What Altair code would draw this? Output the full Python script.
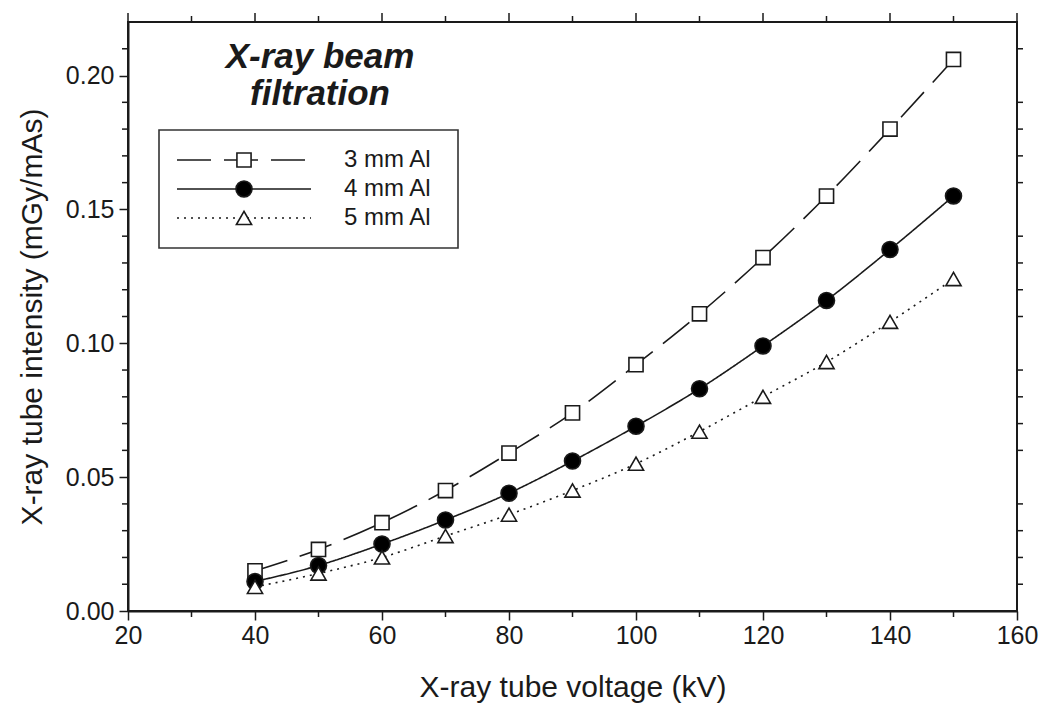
import altair as alt
import pandas as pd

# ---- data ----
kv = [40, 50, 60, 70, 80, 90, 100, 110, 120, 130, 140, 150]
al3 = [0.015, 0.023, 0.033, 0.045, 0.059, 0.074, 0.092, 0.111, 0.132, 0.155, 0.180, 0.206]
al4 = [0.011, 0.017, 0.025, 0.034, 0.044, 0.056, 0.069, 0.083, 0.099, 0.116, 0.135, 0.155]
al5 = [0.009, 0.014, 0.020, 0.028, 0.036, 0.045, 0.055, 0.067, 0.080, 0.093, 0.108, 0.124]
series = ["3 mm Al", "4 mm Al", "5 mm Al"]

x_major = [20, 40, 60, 80, 100, 120, 140, 160]
x_minor = [30, 50, 70, 90, 110, 130, 150]
y_major = [0.0, 0.05, 0.10, 0.15, 0.20]
y_minor = [0.01, 0.02, 0.03, 0.04, 0.06, 0.07, 0.08, 0.09, 0.11, 0.12, 0.13, 0.14,
           0.16, 0.17, 0.18, 0.19, 0.21]

# ---- styles ----
dashes = [[34, 13], [1, 0], [2, 5]]
shapes = ["square", "circle", "triangle-up"]
fills = ["white", "black", "white"]
sizes = [200, 256, 230]
FONT = "Liberation Sans"
INK = "#1a1a1a"

W, H = 889, 589

rows = []
for name, vals in zip(series, [al3, al4, al5]):
    for k, v in zip(kv, vals):
        rows.append({"kv": k, "val": v, "series": name})
df = pd.DataFrame(rows)

xscale = alt.Scale(domain=[20, 160], nice=False, zero=False)
yscale = alt.Scale(domain=[0, 0.22], nice=False)

xaxis = alt.Axis(values=x_major, format="d", title="X-ray tube voltage (kV)",
                 labelFontSize=25, titleFontSize=30, labelFont=FONT, titleFont=FONT,
                 titleFontWeight="normal", labelColor=INK, titleColor=INK,
                 tickSize=9, tickWidth=1.5, tickColor=INK, domainColor=INK, domainWidth=2,
                 labelPadding=3, titlePadding=24, labelFlush=False, grid=False,
                 labelOverlap=False)
yaxis = alt.Axis(values=y_major, format=".2f", title="X-ray tube intensity (mGy/mAs)",
                 labelFontSize=25, titleFontSize=30, labelFont=FONT, titleFont=FONT,
                 titleFontWeight="normal", labelColor=INK, titleColor=INK,
                 tickSize=9, tickWidth=1.5, tickColor=INK, domainColor=INK, domainWidth=2,
                 labelPadding=5, titlePadding=18, labelFlush=False, grid=False,
                 labelOverlap=False)

layers = []

# data lines and markers
for i, name in enumerate(series):
    sub = df[df["series"] == name]
    layers.append(
        alt.Chart(sub).mark_line(interpolate="monotone", color=INK, strokeWidth=1.6,
                                 strokeDash=dashes[i]).encode(
            x=alt.X("kv:Q", scale=xscale, axis=xaxis),
            y=alt.Y("val:Q", scale=yscale, axis=yaxis),
        )
    )
for i, name in enumerate(series):
    sub = df[df["series"] == name]
    layers.append(
        alt.Chart(sub).mark_point(shape=shapes[i], filled=True, fill=fills[i],
                                  stroke=INK, strokeWidth=1.6, size=sizes[i],
                                  opacity=1).encode(
            x=alt.X("kv:Q", scale=xscale),
            y=alt.Y("val:Q", scale=yscale),
        )
    )

# minor / mirrored ticks
xmin_df = pd.DataFrame({"t": x_minor})
xmaj_df = pd.DataFrame({"t": x_major})
ymin_df = pd.DataFrame({"t": y_minor})

layers.append(alt.Chart(xmin_df).mark_rule(color=INK, strokeWidth=1.5).encode(
    x=alt.X("t:Q", scale=xscale), y=alt.value(H), y2=alt.value(H + 6)))
layers.append(alt.Chart(xmin_df).mark_rule(color=INK, strokeWidth=1.5).encode(
    x=alt.X("t:Q", scale=xscale), y=alt.value(0), y2=alt.value(-6)))
layers.append(alt.Chart(xmaj_df).mark_rule(color=INK, strokeWidth=1.5).encode(
    x=alt.X("t:Q", scale=xscale), y=alt.value(0), y2=alt.value(-9)))
layers.append(alt.Chart(ymin_df).mark_rule(color=INK, strokeWidth=1.5).encode(
    y=alt.Y("t:Q", scale=yscale), x=alt.value(0), x2=alt.value(-6)))
layers.append(alt.Chart(ymin_df).mark_rule(color=INK, strokeWidth=1.5).encode(
    y=alt.Y("t:Q", scale=yscale), x=alt.value(W), x2=alt.value(W + 6)))

# annotation title
one = pd.DataFrame({"a": [0]})
layers.append(alt.Chart(one).mark_text(font=FONT, fontSize=35, fontWeight="bold",
                                       fontStyle="italic", color=INK, align="center",
                                       baseline="alphabetic").encode(
    x=alt.value(192), y=alt.value(46), text=alt.value("X-ray beam")))
layers.append(alt.Chart(one).mark_text(font=FONT, fontSize=35, fontWeight="bold",
                                       fontStyle="italic", color=INK, align="center",
                                       baseline="alphabetic").encode(
    x=alt.value(192), y=alt.value(83), text=alt.value("filtration")))

# legend box
layers.append(alt.Chart(one).mark_rect(fill="white", stroke="#333", strokeWidth=1.6).encode(
    x=alt.value(31), x2=alt.value(330), y=alt.value(108), y2=alt.value(226)))

for i, name in enumerate(series):
    ly = 138 + i * 29
    lab = pd.DataFrame({"label": [name]})
    layers.append(alt.Chart(lab).mark_rule(color=INK, strokeWidth=1.6,
                                           strokeDash=dashes[i]).encode(
        x=alt.value(49), x2=alt.value(183), y=alt.value(ly)))
    layers.append(alt.Chart(lab).mark_point(shape=shapes[i], filled=True, fill=fills[i],
                                            stroke=INK, strokeWidth=1.6, size=sizes[i],
                                            opacity=1).encode(
        x=alt.value(116), y=alt.value(ly)))
    layers.append(alt.Chart(lab).mark_text(font=FONT, fontSize=24, color=INK, align="left",
                                           baseline="middle").encode(
        x=alt.value(216), y=alt.value(ly), text=alt.Text("label:N")))

chart = alt.layer(*layers).properties(
    width=W, height=H,
    autosize=alt.AutoSizeParams(type="none"),
    padding={"left": 128, "top": 22, "right": 23, "bottom": 97},
    background="white",
).configure_view(stroke=INK, strokeWidth=2)

chart.save("out.html", embed_options={"renderer": "svg", "actions": False})
